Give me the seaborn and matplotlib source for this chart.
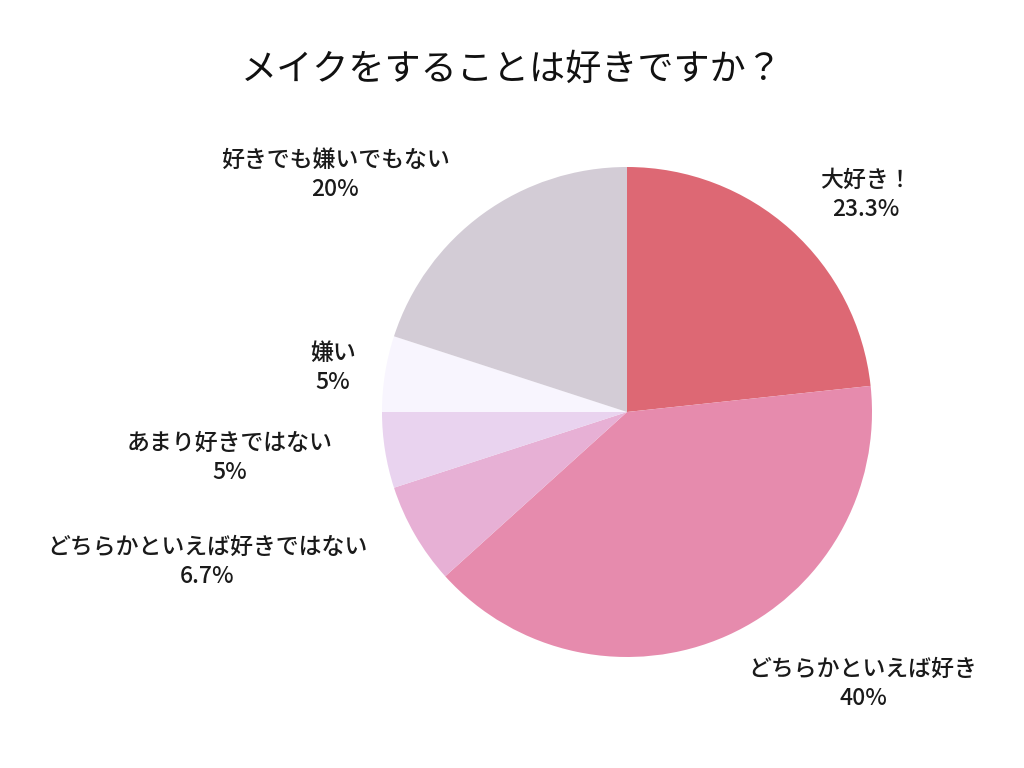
import numpy as np
import matplotlib
matplotlib.use('Agg')
import matplotlib.pyplot as plt
import seaborn as sns

title = 'メイクをすることは好きですか？'
categories = ['大好き！', 'どちらかといえば好き', 'どちらかといえば好きではない',
              'あまり好きではない', '嫌い', '好きでも嫌いでもない']
values = [23.3, 40, 6.7, 5, 5, 20]
value_labels = ['23.3%', '40%', '6.7%', '5%', '5%', '20%']
colors = ['#DD6874', '#E68BAD', '#E7B0D5', '#E9D3EF', '#F8F5FE', '#D3CCD6']

label_px = [(866, 195), (863, 684), (207, 562), (230, 458), (333, 368), (335, 175)]

sns.set_theme(style='white')
plt.rcParams['font.family'] = ['Noto Sans CJK JP', 'DejaVu Sans']

W, H = 1024, 768
cx, cy, r = 627, 412, 245

fig = plt.figure(figsize=(W / 100, H / 100), dpi=100)
ax = fig.add_axes([(cx - r) / W, (H - cy - r) / H, 2 * r / W, 2 * r / H])

ax.pie(
    values,
    colors=sns.color_palette(colors),
    startangle=90,
    counterclock=False,
    wedgeprops={'linewidth': 0},
)
ax.set_xlim(-1, 1)
ax.set_ylim(-1, 1)
ax.set_aspect('equal')
ax.axis('off')

for cat, val, (px, py) in zip(categories, value_labels, label_px):
    ax.text(
        (px - cx) / r,
        (cy - py) / r,
        f'{cat}\n{val}',
        ha='center',
        va='center',
        fontsize=16.5,
        fontweight='medium',
        color='#1a1a1a',
        linespacing=1.35,
        clip_on=False,
    )

fig.text(0.5, 1 - 70 / H, title, ha='center', va='center', fontsize=26, color='#111111')

fig.savefig('out.png', dpi=100)
plt.close(fig)
